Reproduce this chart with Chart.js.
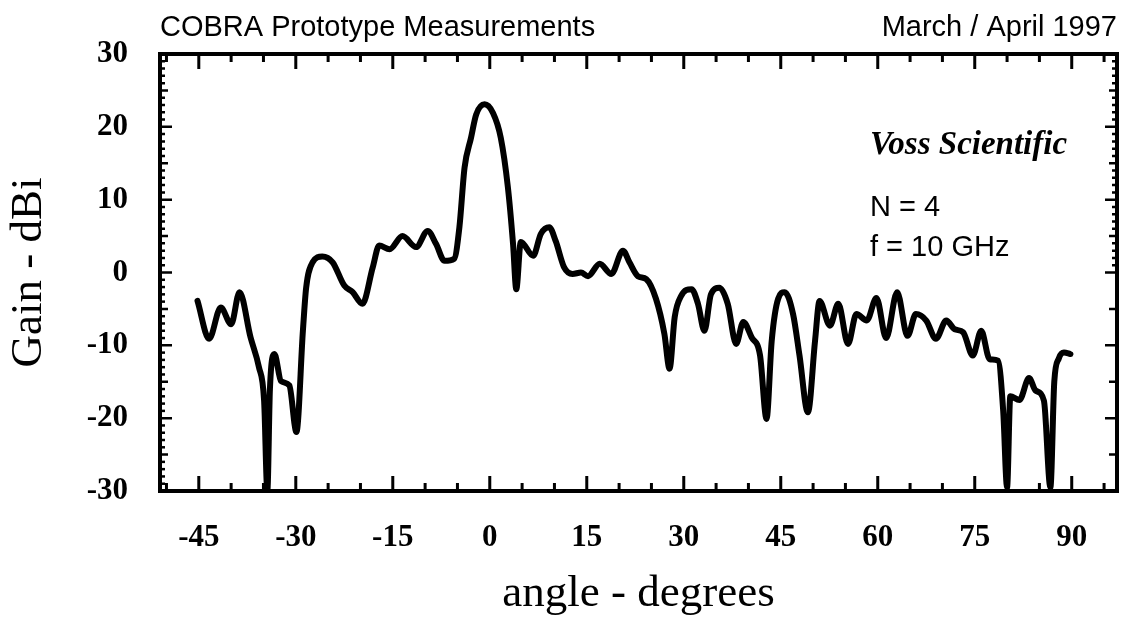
<!DOCTYPE html>
<html><head><meta charset="utf-8">
<script src="https://cdn.jsdelivr.net/npm/chart.js@4.4.1/dist/chart.umd.min.js"></script>
<style>html,body{margin:0;padding:0;background:#fff}#wrap{position:relative;width:1121px;height:627px}</style>
</head><body><div id="wrap"><canvas id="c"></canvas></div>
<script>
// ---- data ----
const angles = [-45.2,-43.4,-41.6,-40.0,-38.7,-37.0,-35.7,-34.9,-34.4,-34.0,-33.3,-32.3,-31.0,-29.9,-28.9,-28.4,-27.4,-25.9,-24.3,-22.5,-21.2,-19.7,-18.1,-17.1,-15.5,-13.5,-11.4,-9.6,-8.3,-7.0,-5.5,-4.7,-3.9,-2.9,-2.1,-0.8,0.5,1.7,2.8,3.6,4.1,4.8,6.7,7.9,9.2,10.2,11.5,12.8,14.1,15.2,17.0,18.8,20.6,21.6,22.9,24.2,25.7,27.0,27.8,28.6,29.6,31.2,32.2,33.2,34.2,35.5,36.8,38.1,39.2,40.5,41.8,42.8,43.6,44.6,45.6,46.9,47.9,49.2,50.3,51.0,52.6,53.9,55.4,56.7,58.3,59.8,61.3,63.0,64.6,65.9,67.5,69.0,70.6,71.9,73.2,74.7,76.0,77.3,78.6,79.4,80.0,80.5,81.9,83.4,84.4,85.7,86.7,87.3,88.0,88.8,89.8];
const gains  = [-3.9,-9.1,-4.8,-7.1,-2.7,-8.9,-13.0,-17.6,-30,-16.0,-11.2,-14.9,-15.5,-21.9,-8.0,-2.1,1.4,2.2,1.4,-1.8,-2.7,-4.3,0.7,3.7,3.2,5.0,3.5,5.7,3.9,1.6,1.9,6.2,14.4,18.5,21.7,23.1,21.9,18.5,11.7,3.9,-2.3,4.2,2.3,5.3,6.2,4.3,0.7,-0.2,0.0,-0.5,1.2,-0.2,3.0,1.4,-0.5,-0.9,-3.6,-8.4,-13.2,-6.1,-3.2,-2.3,-4.3,-8.0,-3.0,-2.1,-4.3,-9.8,-6.8,-8.9,-11.4,-20.1,-9.4,-3.6,-2.7,-5.7,-11.4,-19.2,-9.4,-3.9,-7.3,-4.3,-9.8,-5.7,-6.6,-3.5,-9.0,-2.7,-8.7,-5.7,-6.6,-9.1,-6.6,-7.8,-8.2,-11.4,-8.0,-11.9,-12.1,-19.0,-29.5,-17.0,-17.5,-14.5,-16.2,-17.6,-29.5,-15.0,-11.8,-11.0,-11.2];
const xTickValues = [-45,-30,-15,0,15,30,45,60,75,90];
const yTickValues = [-30,-20,-10,0,10,20,30];
const headerLeft = 'COBRA Prototype Measurements';
const headerRight = 'March / April 1997';
const noteCompany = 'Voss Scientific';
const noteLines = ['N = 4','f = 10 GHz'];
const xTitle = 'angle - degrees';
const yTitle = 'Gain - dBi';

const points = angles.map((a,i)=>({x:a,y:gains[i]}));

const framePlugin = {
  id:'frame',
  afterDraw(chart){
    const {ctx, chartArea:ca, scales:{x,y}} = chart;
    ctx.save();
    ctx.strokeStyle='#000'; ctx.fillStyle='#000';
    ctx.lineWidth=4;
    ctx.strokeRect(ca.left, ca.top, ca.right-ca.left, ca.bottom-ca.top);
    // x ticks (every 5 deg, long every 15)
    ctx.lineWidth=3;
    for(let v=-50; v<=95; v+=5){
      const px = x.getPixelForValue(v);
      if(px<=ca.left+2||px>=ca.right-2) continue;
      const len = (v%15===0)?15:8;
      ctx.beginPath();
      ctx.moveTo(px, ca.bottom); ctx.lineTo(px, ca.bottom-len);
      ctx.moveTo(px, ca.top); ctx.lineTo(px, ca.top+len);
      ctx.stroke();
    }
    // y ticks
    ctx.lineWidth=2.5;
    for(let v=-29; v<=29; v++){
      const py = y.getPixelForValue(v);
      const len = (v%10===0)?12:((v%5===0)?8:5);
      ctx.beginPath();
      ctx.moveTo(ca.left, py); ctx.lineTo(ca.left+len, py);
      if(v>=0 || v%5===0){ ctx.moveTo(ca.right, py); ctx.lineTo(ca.right-len, py); }
      ctx.stroke();
    }
    // header texts
    ctx.font = '29px "Liberation Sans", Arial, sans-serif';
    ctx.textBaseline='alphabetic';
    ctx.textAlign='left';
    ctx.fillText(headerLeft, ca.left, 36);
    ctx.textAlign='right';
    ctx.fillText(headerRight, ca.right, 36);
    // notes inside plot
    const nx = x.getPixelForValue(58.8);
    ctx.textAlign='left';
    ctx.font = 'bold italic 33px "Liberation Serif", "Times New Roman", serif';
    ctx.fillText(noteCompany, nx, y.getPixelForValue(16.3));
    ctx.font = '29px "Liberation Sans", Arial, sans-serif';
    ctx.fillText(noteLines[0], nx, y.getPixelForValue(7.8));
    ctx.fillText(noteLines[1], nx, y.getPixelForValue(2.3));
    ctx.restore();
  }
};

new Chart(document.getElementById('c'), {
  type:'line',
  data:{ datasets:[{ data:points, borderColor:'#000', borderWidth:6, pointRadius:0,
    cubicInterpolationMode:'monotone', borderJoinStyle:'round', borderCapStyle:'round', fill:false }]},
  options:{
    responsive:true, maintainAspectRatio:false, animation:false,
    layout:{ padding:{ top:54, right:4, left:0, bottom:0 } },
    plugins:{ legend:{display:false}, tooltip:{enabled:false}, title:{display:false} },
    scales:{
      x:{ type:'linear', min:-51, max:97,
        afterBuildTicks: s => { s.ticks = xTickValues.map(v=>({value:v})); },
        afterFit: s => { s.height = 136; },
        grid:{ display:false, drawTicks:false }, border:{ display:false },
        ticks:{ color:'#000', padding:28, maxRotation:0, autoSkip:false,
          font:{ family:'"Liberation Serif", "Times New Roman", serif', size:31, weight:'bold' } },
        title:{ display:true, text:xTitle, color:'#000', padding:{top:0,bottom:6},
          font:{ family:'"Liberation Serif", "Times New Roman", serif', size:45 } }
      },
      y:{ type:'linear', min:-30, max:30,
        afterBuildTicks: s => { s.ticks = yTickValues.map(v=>({value:v})); },
        afterFit: s => { s.width = 160; },
        grid:{ display:false, drawTicks:false }, border:{ display:false },
        ticks:{ color:'#000', padding:32,
          font:{ family:'"Liberation Serif", "Times New Roman", serif', size:31, weight:'bold' } },
        title:{ display:true, text:yTitle, color:'#000', padding:{top:2,bottom:0},
          font:{ family:'"Liberation Serif", "Times New Roman", serif', size:45 } }
      }
    }
  },
  plugins:[framePlugin]
});
</script></body></html>
